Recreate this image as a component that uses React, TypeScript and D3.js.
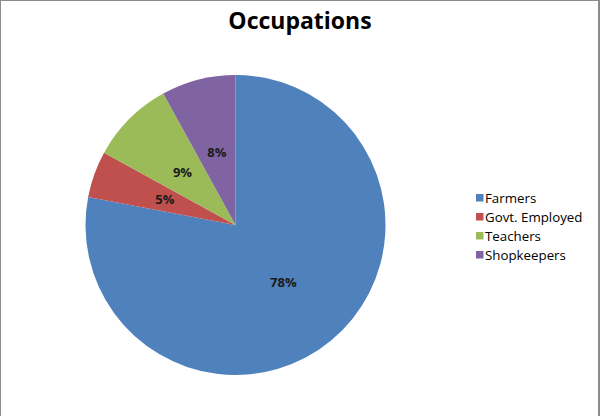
import React from "react";
import * as d3 from "d3";

const categories = ["Farmers", "Govt. Employed", "Teachers", "Shopkeepers"];
const values = [78, 5, 9, 8];
const colors = ["#4F81BD", "#C0504D", "#9BBB59", "#8064A2"];

const W = 600;
const H = 416;
const cx = 235.5;
const cy = 225;
const R = 150;

export default function App() {
  const data = categories.map((c, i) => ({ name: c, value: values[i], color: colors[i] }));
  const pie = d3.pie<{ name: string; value: number; color: string }>().sort(null).value((d) => d.value);
  const arcs = pie(data);
  const arc = d3.arc<d3.PieArcDatum<{ name: string; value: number; color: string }>>().innerRadius(0).outerRadius(R);
  const total = d3.sum(values);

  return (
    <svg width={W} height={H} style={{ position: "absolute", left: 0, top: 0 }} fontFamily="'Open Sans', sans-serif">
      <rect x={0} y={0} width={W} height={H} fill="#fff" />
      <line x1={0.5} y1={0} x2={0.5} y2={H} stroke="#8c8c8c" />
      <line x1={0} y1={0.5} x2={W} y2={0.5} stroke="#8c8c8c" />
      <line x1={599} y1={0} x2={599} y2={H} stroke="#8c8c8c" strokeWidth={2} />
      <text x={300} y={29} textAnchor="middle" fontSize={23} fontWeight="bold" fill="#000">
        Occupations
      </text>
      <g transform={`translate(${cx},${cy})`}>
        {arcs.map((a, i) => (
          <path key={i} d={arc(a) ?? ""} fill={a.data.color} />
        ))}
        {arcs.map((a, i) => {
          const [x, y] = arc.centroid(a);
          return (
            <text key={i} x={x} y={y} dy="0.35em" textAnchor="middle" fontSize={13} fontWeight="bold" fill="#1a1a1a">
              {Math.round((a.data.value / total) * 100)}%
            </text>
          );
        })}
      </g>
      <g transform="translate(476,198)">
        {data.map((d, i) => (
          <g key={i} transform={`translate(0,${i * 19})`}>
            <rect x={0} y={-4} width={7.5} height={7.5} fill={d.color} />
            <text x={9} y={0} dy="0.35em" fontSize={13.3} fill="#000">
              {d.name}
            </text>
          </g>
        ))}
      </g>
    </svg>
  );
}
